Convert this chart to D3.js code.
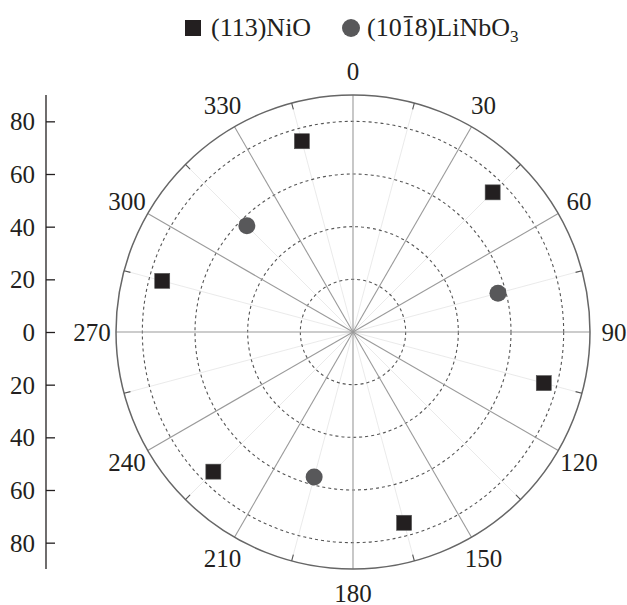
<!DOCTYPE html>
<html>
<head>
<meta charset="utf-8">
<script src="https://cdn.jsdelivr.net/npm/d3@7"></script>
<style>
body { margin: 0; background: #fff; }
text { font-family: "Liberation Serif", "DejaVu Serif", serif; fill: #231f20; }
</style>
</head>
<body>
<div id="chart"></div>
<script>
const WIDTH = 627, HEIGHT = 605
const CX = 353, CY = 332, R_OUT = 237
const FONT = 25

// data: angle (deg, clockwise from top), radius
const nioAngles = [45, 105, 165, 225, 285, 345]
const nioR = [75, 75, 75, 75, 75, 75]
const lnoAngles = [75, 195, 315]
const lnoR = [57, 57, 57]
const radialTicks = [20, 40, 60, 80]
const axisTicks = [-80, -60, -40, -20, 0, 20, 40, 60, 80]
const angleLabels = [0, 30, 60, 90, 120, 150, 180, 210, 240, 270, 300, 330]
const minorAngles = [15, 45, 75, 105, 135, 165, 195, 225, 255, 285, 315, 345]

const svg = d3.select("#chart").append("svg")
    .attr("width", WIDTH)
    .attr("height", HEIGHT)

const r = d3.scaleLinear().domain([0, 90]).range([0, R_OUT])
const ang = d3.scaleLinear().domain([0, 360]).range([0, 2 * Math.PI])
const px = (a, v) => CX + r(v) * Math.sin(ang(a))
const py = (a, v) => CY - r(v) * Math.cos(ang(a))

const g = svg.append("g")

// faint 15 deg spokes
g.selectAll("line.minor").data(minorAngles).enter().append("line")
    .attr("x1", CX).attr("y1", CY)
    .attr("x2", d => px(d, 90)).attr("y2", d => py(d, 90))
    .attr("stroke", "#e4e4e4").attr("stroke-width", 0.8)

// dashed circles
g.selectAll("circle.grid").data(radialTicks).enter().append("circle")
    .attr("cx", CX).attr("cy", CY).attr("r", d => r(d))
    .attr("fill", "none").attr("stroke", "#555")
    .attr("stroke-width", 1.1).attr("stroke-dasharray", "3,3")

// main 30 deg spokes
g.selectAll("line.major").data(angleLabels).enter().append("line")
    .attr("x1", CX).attr("y1", CY)
    .attr("x2", d => px(d, 90)).attr("y2", d => py(d, 90))
    .attr("stroke", "#9a9a9a").attr("stroke-width", 1.1)

// outer circle
g.append("circle")
    .attr("cx", CX).attr("cy", CY).attr("r", R_OUT)
    .attr("fill", "none").attr("stroke", "#666").attr("stroke-width", 1.5)

// minor ticks on the rim
g.selectAll("line.rimtick").data(minorAngles).enter().append("line")
    .attr("x1", d => px(d, 90)).attr("y1", d => py(d, 90))
    .attr("x2", d => px(d, 87.5)).attr("y2", d => py(d, 87.5))
    .attr("stroke", "#555").attr("stroke-width", 1.1)

// angle labels
g.selectAll("text.ang").data(angleLabels).enter().append("text")
    .attr("x", d => CX + (R_OUT + 24) * Math.sin(ang(d)))
    .attr("y", d => CY - (R_OUT + 24) * Math.cos(ang(d)))
    .attr("text-anchor", "middle")
    .attr("dominant-baseline", "central")
    .attr("font-size", FONT)
    .text(d => d)

// left radial axis
const yAxis = d3.scaleLinear().domain([-90, 90]).range([CY - R_OUT, CY + R_OUT])
const axG = svg.append("g").attr("transform", "translate(46,0)")
    .call(d3.axisRight(yAxis).tickValues(axisTicks).tickSize(9).tickFormat(""))
axG.select(".domain").attr("stroke", "#231f20").attr("stroke-width", 1.3).attr("d", `M0,${CY - R_OUT}V${CY + R_OUT}`)
axG.selectAll(".tick line").attr("stroke", "#231f20").attr("stroke-width", 1.3)
axG.selectAll(".tick").append("text")
    .attr("x", -11).attr("dy", "0.34em")
    .attr("text-anchor", "end")
    .attr("font-size", FONT)
    .attr("fill", "#231f20")
    .text(d => Math.abs(d))

// markers
const SQ = 15
svg.selectAll("rect.nio").data(nioAngles).enter().append("rect")
    .attr("x", (d, i) => px(d, nioR[i]) - SQ / 2)
    .attr("y", (d, i) => py(d, nioR[i]) - SQ / 2)
    .attr("width", SQ).attr("height", SQ)
    .attr("fill", "#231f20").attr("stroke", "#555").attr("stroke-width", 0.6)

svg.selectAll("circle.lno").data(lnoAngles).enter().append("circle")
    .attr("cx", (d, i) => px(d, lnoR[i]))
    .attr("cy", (d, i) => py(d, lnoR[i]))
    .attr("r", 8.5)
    .attr("fill", "#58585a")

// legend
const LFONT = 26, LBASE = 36
const leg = svg.append("g")
leg.append("rect").attr("x", 185).attr("y", 20).attr("width", 16).attr("height", 16).attr("fill", "#231f20")
leg.append("text").attr("x", 211).attr("y", LBASE).attr("font-size", LFONT).text("(113)NiO")
leg.append("circle").attr("cx", 351).attr("cy", 28).attr("r", 9).attr("fill", "#58585a")
const t2 = leg.append("text").attr("x", 367).attr("y", LBASE).attr("font-size", LFONT)
t2.append("tspan").text("(10")
t2.append("tspan").text("1")
t2.append("tspan").text("8)LiNbO")
t2.append("tspan").attr("font-size", 17).attr("dy", 6).text("3")
// overline over the bar-one, placed from the glyph box
const ext = t2.node().getExtentOfChar(3)
leg.append("line")
    .attr("x1", ext.x + 2).attr("x2", ext.x + ext.width - 2)
    .attr("y1", LBASE - LFONT * 0.74).attr("y2", LBASE - LFONT * 0.74)
    .attr("stroke", "#231f20").attr("stroke-width", 1.4)
</script>
</body>
</html>
